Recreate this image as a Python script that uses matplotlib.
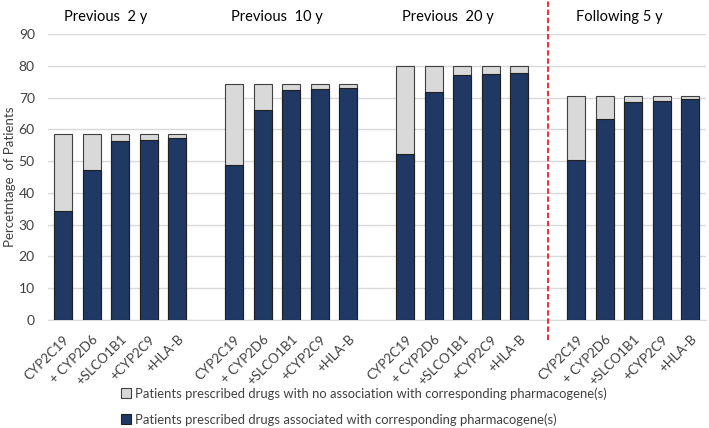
"""Stacked bars: share of patients prescribed drugs linked to pharmacogenes."""

import matplotlib.pyplot as plt
from matplotlib.patches import Patch

plt.rcParams["font.family"] = ["Lato", "DejaVu Sans"]

# Data
periods = ["Previous  2 y", "Previous  10 y", "Previous  20 y", "Following 5 y"]
genes = ["CYP2C19", "+ CYP2D6", "+SLCO1B1", "+CYP2C9", "+HLA-B"]
totals = [58.5, 74.3, 79.8, 70.6]
associated = [
    [34.4, 47.2, 56.2, 56.5, 57.2],
    [48.9, 66.2, 72.3, 72.6, 72.9],
    [52.3, 71.9, 77.0, 77.3, 77.7],
    [50.4, 63.2, 68.7, 69.0, 69.5],
]
legend_labels = [
    "Patients prescribed drugs with no association with corresponding pharmacogene(s)",
    "Patients prescribed drugs associated with corresponding pharmacogene(s)",
]

light = "#D9D9D9"
dark = "#1F3864"

fig = plt.figure(figsize=(7.09, 4.28), dpi=100)
ax = fig.add_axes([48 / 709, 1 - 320 / 428, 658 / 709, 286 / 428])

xs, labels = [], []
for g, (total, vals) in enumerate(zip(totals, associated)):
    pos = [g * 6 + i for i in range(len(genes))]
    ax.bar(pos, [total] * len(pos), width=0.63, color=light, edgecolor="#404040",
           linewidth=0.8, zorder=2)
    ax.bar(pos, vals, width=0.63, color=dark, edgecolor="#202020",
           linewidth=0.8, zorder=3)
    ax.text(g * 6 + 1.5, 95.2, periods[g], ha="center", va="center",
            fontsize=10.5, color="#000000", clip_on=False)
    xs += pos
    labels += genes

# red separator between past and future windows
ax.plot([17, 17], [-6.3, 100.7], color="#E8202A", linestyle=(0, (3, 1.5)),
        linewidth=1.3, clip_on=False, zorder=4)

ax.set_xlim(-0.53, 22.55)
ax.set_ylim(0, 90)
ax.set_yticks(range(0, 91, 10))
ax.set_xticks(xs)
ax.set_xticklabels(labels, rotation=45, ha="right", rotation_mode="anchor",
                   fontsize=9.5, color="#404040")
ax.tick_params(axis="y", labelsize=10, colors="#404040", length=0, pad=9.5)
ax.tick_params(axis="x", length=0, pad=9.5)
ax.grid(axis="y", color="#D9D9D9", linewidth=1, zorder=0)
for side in ["top", "right", "left"]:
    ax.spines[side].set_visible(False)
ax.spines["bottom"].set_color("#D9D9D9")
ax.set_ylabel("Percetntage  of Patients", fontsize=9.5, color="#404040")
ax.yaxis.set_label_coords(-0.048, 0.5)

# size the legend text so the first entry spans the same width as in the figure
renderer = fig.canvas.get_renderer()
probe = fig.text(0, 0, legend_labels[0], fontsize=10)
legend_size = 10 * 472 / probe.get_window_extent(renderer).width
probe.remove()

handles = [
    Patch(facecolor=light, edgecolor="#404040", linewidth=0.8),
    Patch(facecolor=dark, edgecolor="#202020", linewidth=0.8),
]
fig.legend(handles, legend_labels,
           loc="upper left", bbox_to_anchor=(121 / 709, 1 - 387 / 428), frameon=False,
           fontsize=legend_size, labelspacing=1.05, handlelength=0.75, handleheight=0.75,
           handletextpad=0.3, borderpad=0, borderaxespad=0, labelcolor="#404040")

fig.savefig("out.png", dpi=100)
